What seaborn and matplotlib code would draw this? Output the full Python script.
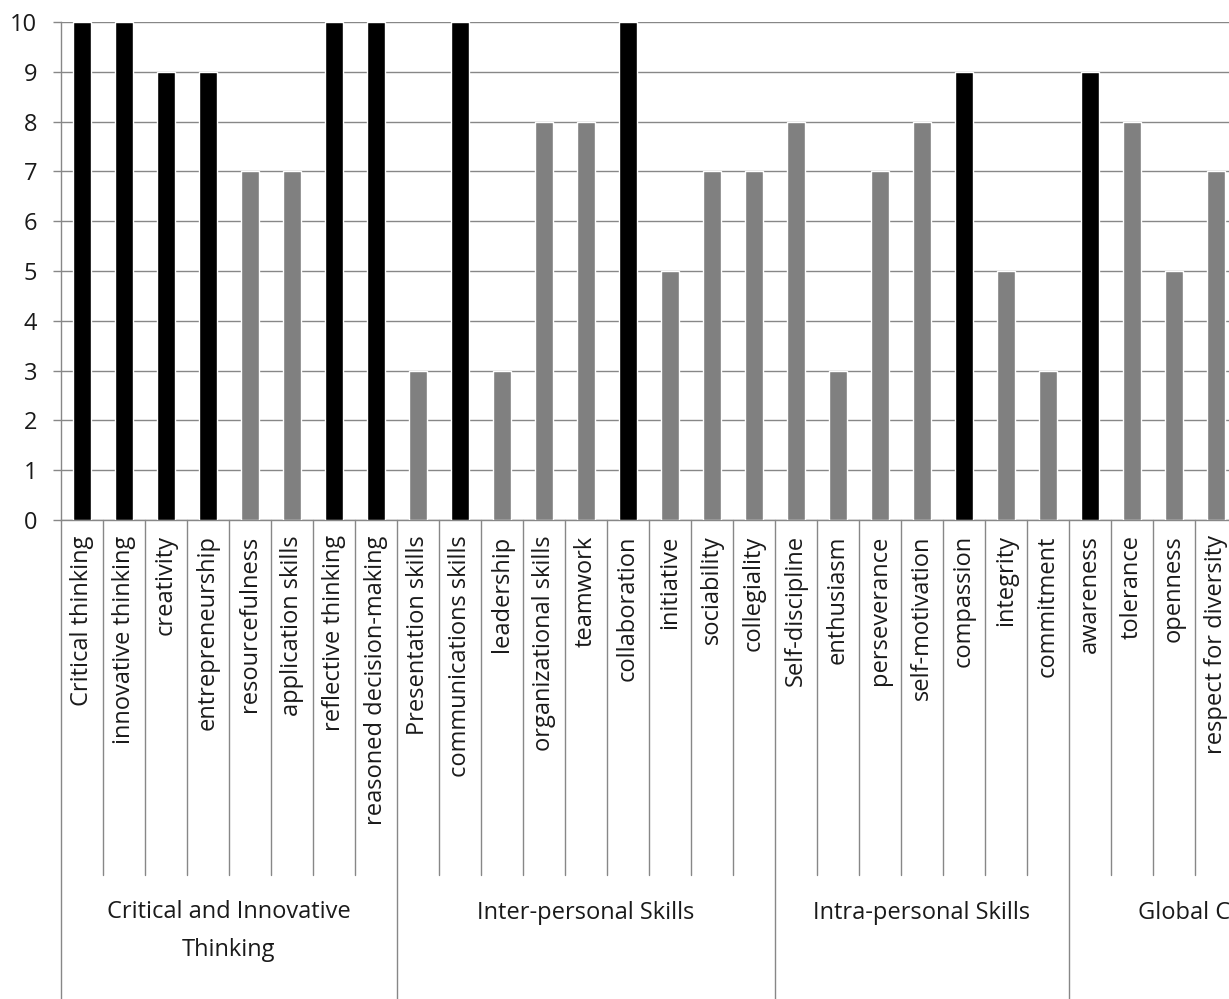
import matplotlib
matplotlib.use("Agg")
import matplotlib.pyplot as plt
import pandas as pd
import seaborn as sns
from matplotlib.transforms import blended_transform_factory

# Skill items, in display order
skills = [
    "Critical thinking", "innovative thinking", "creativity", "entrepreneurship",
    "resourcefulness", "application skills", "reflective thinking", "reasoned decision-making",
    "Presentation skills", "communications skills", "leadership", "organizational skills",
    "teamwork", "collaboration", "initiative", "sociability", "collegiality",
    "Self-discipline", "enthusiasm", "perseverance", "self-motivation", "compassion",
    "integrity", "commitment",
    "awareness", "tolerance", "openness", "respect for diversity",
]
scores = [
    10, 10, 9, 9, 7, 7, 10, 10,
    3, 10, 3, 8, 8, 10, 5, 7, 7,
    8, 3, 7, 8, 9, 5, 3,
    9, 8, 5, 7,
]
group_names = ["Critical and Innovative\nThinking", "Inter-personal Skills",
               "Intra-personal Skills", "Global C"]
group_sizes = [8, 9, 7, 4]
y_ticks = list(range(0, 11))

df = pd.DataFrame({"skill": skills, "score": scores})
df["level"] = ["high" if s >= 9 else "other" for s in scores]

sns.set_theme(style="white")
plt.rcParams["font.family"] = ["Open Sans", "DejaVu Sans"]

FS = 17
TXT = "#1a1a1a"
LINE = "#878787"

W, H = 1229, 999
fig = plt.figure(figsize=(W / 100, H / 100), dpi=100)
x0, y_base, y_top = 61, 520, 22
ax = fig.add_axes([x0 / W, (H - y_base) / H, (W - x0) / W, (y_base - y_top) / H])

sns.barplot(data=df, x="skill", y="score", hue="level",
            palette={"high": "#000000", "other": "#808080"},
            dodge=False, width=0.41, saturation=1, legend=False, ax=ax, zorder=3)

cat_px = 42
ax.set_xlim(-0.5, -0.5 + (W - x0) / cat_px)
ax.set_ylim(0, 10)
ax.set_yticks(y_ticks)
ax.set_xlabel("")
ax.set_ylabel("")
ax.yaxis.grid(True, color=LINE, lw=1.0, zorder=0)
ax.xaxis.grid(False)
ax.set_axisbelow(True)

for side in ["top", "right"]:
    ax.spines[side].set_visible(False)
for side in ["left", "bottom"]:
    ax.spines[side].set_color(LINE)
    ax.spines[side].set_linewidth(1.0)

ax.tick_params(axis="y", which="both", left=True, length=6, width=1.0, color=LINE,
               pad=11, labelsize=FS, labelcolor=TXT)
ax.set_xticks(range(len(skills)))
ax.set_xticklabels(skills, rotation=90, fontsize=FS, color=TXT)
ax.tick_params(axis="x", length=0, pad=11)

# Category separators below the axis; group boundaries run to the bottom
trans = blended_transform_factory(ax.transData, ax.transAxes)
h_ax = (y_base - y_top)
short_end = -(875 - y_base) / h_ax
long_end = -(H + 5 - y_base) / h_ax
bounds = set()
acc = 0
for n in group_sizes[:-1]:
    acc += n
    bounds.add(acc)
for i in range(len(skills)):
    end = long_end if (i == 0 or i in bounds) else short_end
    ax.plot([i - 0.5, i - 0.5], [0, end], color=LINE, lw=1.0,
            transform=trans, clip_on=False, zorder=1)

# Group labels: first line baseline at 919 px, 37 px between lines
first_baseline_px = 919
line_step_px = 37
start = 0
for name, n in zip(group_names, group_sizes):
    n_lines = name.count("\n") + 1
    y_px = first_baseline_px + line_step_px * (n_lines - 1)
    y_ax = -(y_px - y_base) / h_ax
    if name == group_names[-1]:
        ax.text((1138 - x0) / cat_px - 0.5, y_ax, name, transform=trans,
                ha="left", va="baseline", fontsize=FS, color=TXT)
    else:
        center = start + (n - 1) / 2
        ax.text(center, y_ax, name, transform=trans, ha="center",
                va="baseline", fontsize=FS, color=TXT, linespacing=1.75)
    start += n

fig.savefig("out.png", dpi=100, facecolor="white")
